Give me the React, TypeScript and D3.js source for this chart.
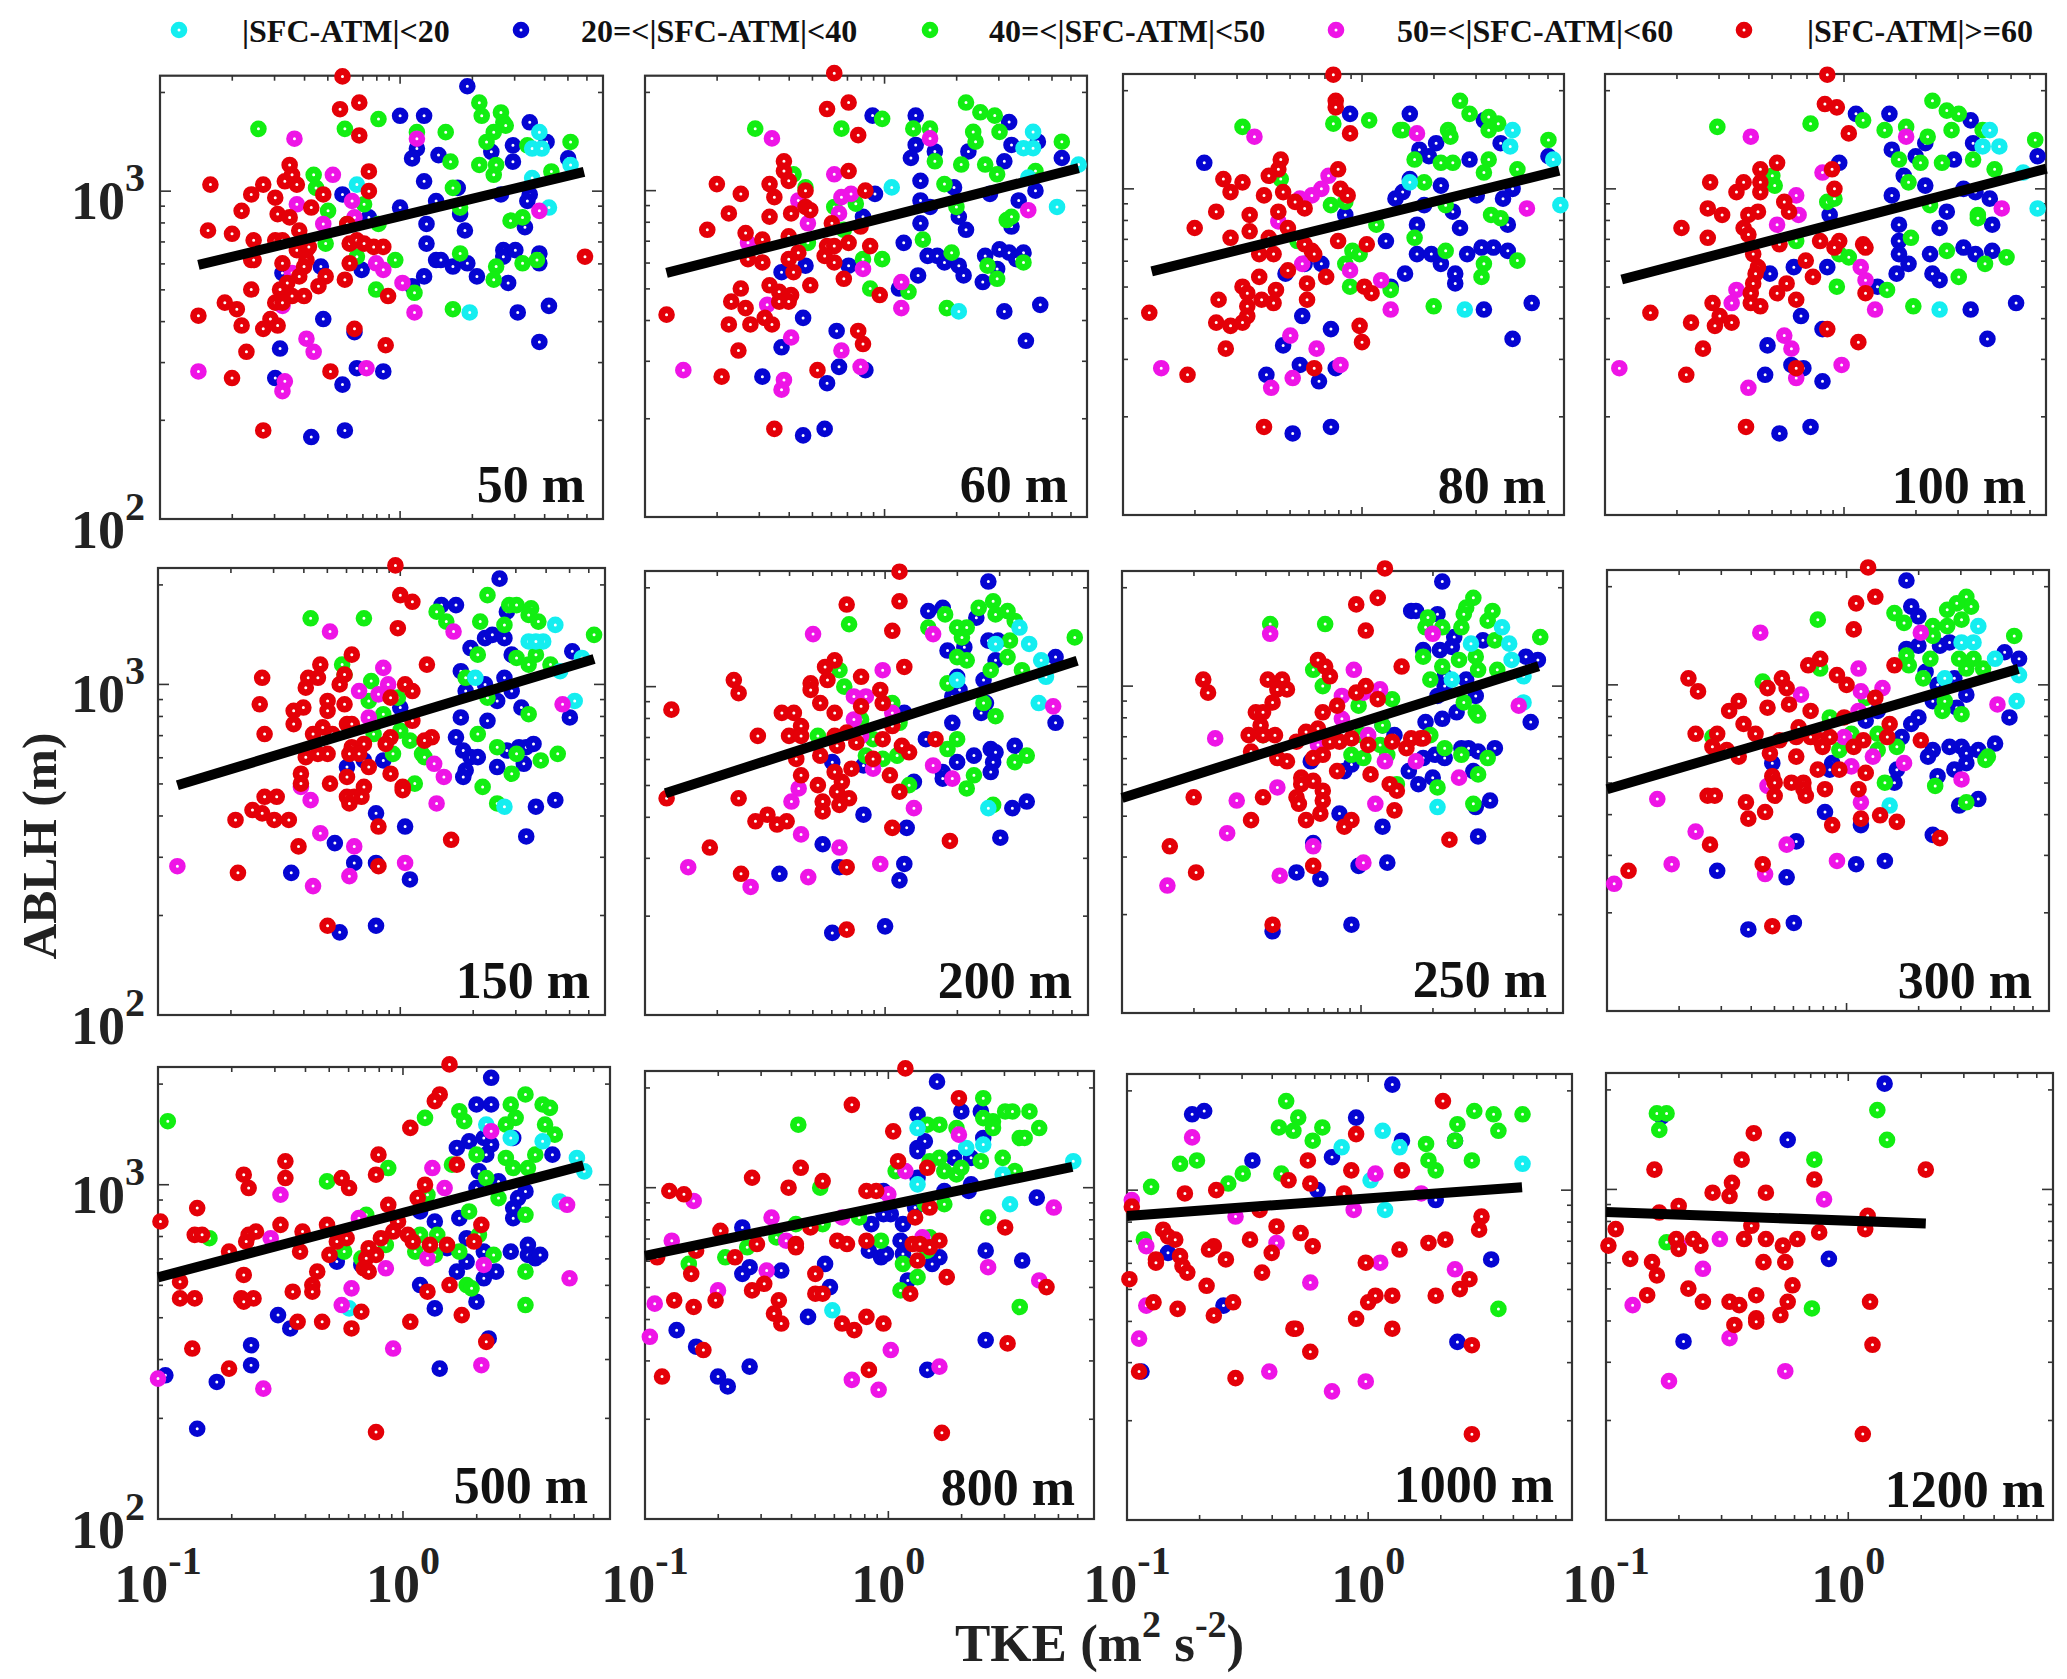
import React from 'react';
import * as d3 from 'd3';

// All series are [log10 TKE, log10 ABLH, log10 TKE, log10 ABLH, ...].
const red50 = [-.24,3.35,-.25,3.25,-.17,3.27,-.17,3.17,-.13,3.06,-.13,3,-.32,2.99,-.79,3.02,-.57,3.02,-.62,2.99,-.52,2.98,-.48,3.03,-.46,3.08,-.45,3.05,-.43,3.02,-.37,2.95,-.66,2.94,-.51,2.93,-.46,2.92,-.8,2.88,-.7,2.87,-.61,2.85,-.52,2.85,-.49,2.85,-.42,2.88,-.22,2.9,-.62,2.79,-.61,2.79,-.49,2.78,-.43,2.82,-.39,2.82,-.38,2.83,-.39,2.79,-.21,2.84,-.18,2.85,-.15,2.84,-.11,2.83,-.07,2.83,-.21,2.78,-.4,2.77,-.42,2.74,-.31,2.74,-.34,2.71,-.23,2.73,-.47,2.72,-.5,2.7,-.62,2.7,-.4,2.68,-.45,2.68,-.05,2.68,-.52,2.66,-.49,2.66,-.73,2.66,-.68,2.64,-.84,2.62,-.54,2.61,-.66,2.59,-.57,2.58,-.51,2.59,-.64,2.51,-.19,2.58,-.06,2.53,-.29,2.45,-.7,2.43,-.57,2.27,.77,2.8];
const blue50 = [.28,3.32,0,3.23,.1,3.23,.54,3.21,.47,3.14,.61,3.15,.7,3.1,.07,3.13,.05,3.1,.16,3.11,.38,3.12,.47,3.09,.1,3.03,.24,3.01,-.24,2.99,.15,2.97,0,2.95,.42,2.99,.54,2.99,.53,2.97,.25,2.93,.11,2.9,.27,2.88,.52,2.89,-.13,2.92,.11,2.84,.15,2.79,.17,2.79,.22,2.77,.28,2.78,.32,2.74,.43,2.82,.43,2.8,.48,2.82,.58,2.81,.58,2.78,.45,2.72,.1,2.74,.05,2.71,-.16,2.76,-.33,2.77,-.49,2.75,-.32,2.61,.49,2.63,.62,2.65,-.19,2.57,.58,2.54,-.5,2.52,-.18,2.46,-.07,2.45,-.52,2.43,-.24,2.41,-.23,2.27,-.37,2.25];
const green50 = [-.59,3.19,-.23,3.19,-.09,3.22,.07,3.18,.19,3.18,.33,3.27,.34,3.23,.42,3.24,.43,3.21,.44,3.2,.39,3.18,.36,3.15,.71,3.15,.53,3.14,.21,3.09,.33,3.08,.4,3.08,.39,3.05,.63,3.06,-.36,3.05,-.35,3.01,.22,3.01,.25,2.95,-.3,2.94,-.15,2.96,.46,2.91,.51,2.92,-.09,2.9,-.22,2.9,-.31,2.84,.25,2.81,-.02,2.79,-.18,2.8,.4,2.77,.39,2.73,.51,2.78,.57,2.79,-.1,2.7,.06,2.69,.22,2.64];
const cyan50 = [-.18,3.02,.58,3.18,.55,3.13,.59,3.13,.71,3.08,.55,3.04,.62,2.95,.29,2.63];
const magenta50 = [-.44,3.16,-.28,3.05,.07,3.16,-.43,2.96,-.2,2.97,-.19,2.92,-.32,2.9,.58,2.94,-.1,2.78,-.07,2.76,.01,2.72,.06,2.63,-.49,2.7,-.39,2.55,-.36,2.51,-.84,2.45,-.14,2.46,-.48,2.42,-.49,2.39,-.45,2.75,-.49,2.65];

const red60 = [-.21,3.36,-.24,3.25,-.15,3.27,-.11,3.17,-.15,3.06,-.42,3.09,-.42,3.06,-.4,3.03,-.7,3.02,-.48,3.02,-.6,2.99,-.46,2.98,-.33,3,-.08,3,-.65,2.93,-.48,2.92,-.39,2.93,-.33,2.95,-.31,2.94,-.74,2.88,-.58,2.87,-.22,2.9,-.51,2.85,-.4,2.86,-.1,2.89,-.15,2.84,-.06,2.83,-.24,2.83,-.21,2.83,-.25,2.8,-.21,2.78,-.4,2.79,-.36,2.81,-.51,2.78,-.57,2.79,-.38,2.75,-.31,2.71,-.17,2.73,-.48,2.71,-.6,2.7,-.39,2.68,-.44,2.69,-.44,2.66,-.4,2.66,-.64,2.66,-.58,2.64,-.02,2.68,-.91,2.62,-.5,2.61,-.47,2.59,-.65,2.59,-.56,2.59,-.11,2.57,-.09,2.53,-.61,2.51,-.28,2.45,-.68,2.43,-.46,2.27];
const blue60 = [-.05,3.23,.13,3.23,.52,3.21,.13,3.14,.21,3.12,.11,3.1,.53,3.14,.35,3.12,.5,3.09,.64,3.15,.74,3.1,.15,3.03,.29,3.01,-.04,2.99,.15,2.97,.19,2.95,.44,2.99,.56,2.97,.63,3,.31,2.92,.15,2.9,.34,2.88,.53,2.89,-.09,2.92,.08,2.84,.18,2.8,.22,2.8,.25,2.78,.31,2.77,.33,2.74,.42,2.8,.48,2.82,.52,2.81,.58,2.81,.55,2.79,.47,2.76,.41,2.72,.14,2.74,.06,2.7,-.15,2.77,-.33,2.77,-.43,2.75,-.34,2.61,.5,2.63,.65,2.65,-.2,2.57,.59,2.54,-.43,2.52,-.19,2.46,-.08,2.45,-.51,2.43,-.24,2.41,-.25,2.27,-.34,2.25];
const green60 = [-.54,3.19,-.18,3.19,-.01,3.22,.12,3.19,.19,3.19,.34,3.27,.4,3.24,.46,3.23,.48,3.18,.37,3.18,.38,3.15,.74,3.15,.21,3.09,.32,3.08,.42,3.08,.47,3.05,.63,3.06,-.38,3.05,-.33,3.01,.25,3.02,.3,2.95,-.12,2.96,-.21,2.95,.51,2.91,.53,2.92,-.32,2.84,.16,2.85,.28,2.81,-.01,2.79,-.09,2.79,.43,2.77,.47,2.73,.58,2.78,-.06,2.7,.1,2.69,.26,2.64,-.17,2.88];
const cyan60 = [.03,3.01,.62,3.18,.58,3.13,.62,3.13,.81,3.08,.6,3.04,.72,2.95,.31,2.63];
const magenta60 = [-.47,3.16,.19,3.16,-.21,3.05,-.14,2.99,-.18,2.98,-.36,2.97,-.19,2.93,-.32,2.9,-.57,2.84,-.09,2.76,.07,2.72,-.49,2.65,.07,2.64,.6,2.94,-.39,2.55,-.18,2.51,-.84,2.45,-.1,2.46,-.42,2.42,-.43,2.39];

const red80 = [-.12,3.35,-.11,3.27,-.11,3.25,-.05,3.17,-.34,3.09,-.35,3.06,-.1,3.06,-.39,3.04,-.58,3.03,-.5,3.02,-.55,2.99,-.41,2.98,-.33,2.99,-.09,3,-.06,2.98,-.61,2.93,-.28,2.96,-.24,2.94,-.47,2.92,-.35,2.93,-.7,2.88,-.31,2.88,-.47,2.87,-.55,2.85,-.39,2.85,-.1,2.84,.02,2.83,-.24,2.83,-.43,2.8,-.37,2.8,-.21,2.81,-.2,2.8,-.31,2.75,-.15,2.73,-.43,2.73,-.23,2.71,-.5,2.7,-.48,2.68,.01,2.7,.04,2.68,-.36,2.69,-.42,2.66,-.37,2.65,-.23,2.66,-.6,2.66,-.48,2.64,-.48,2.61,-.89,2.62,-.61,2.59,-.55,2.58,-.5,2.59,-.01,2.58,0,2.53,-.57,2.51,-.73,2.43,-.2,2.45,-.41,2.27];
const blue80 = [-.66,3.08,-.05,3.23,.2,3.23,.51,3.21,.58,3.14,.24,3.12,.31,3.14,.28,3.1,.45,3.09,.78,3.1,.2,3.03,.33,3.01,.17,2.99,.14,2.97,.63,3,.59,2.97,.48,2.98,.26,2.95,.38,2.93,.41,2.88,-.07,2.92,.61,2.89,.23,2.89,.1,2.84,.23,2.8,.29,2.8,.33,2.77,.44,2.8,.5,2.82,.55,2.82,.61,2.81,.39,2.74,.39,2.71,.18,2.74,.12,2.7,-.24,2.77,-.17,2.77,-.32,2.74,-.25,2.61,.51,2.63,.71,2.65,.63,2.54,-.13,2.57,-.33,2.52,-.26,2.46,-.11,2.45,-.4,2.43,-.18,2.41,-.13,2.27,-.29,2.25];
const green80 = [-.5,3.19,-.12,3.2,.03,3.21,.16,3.18,.17,3.18,.41,3.27,.45,3.23,.53,3.22,.57,3.2,.53,3.18,.78,3.15,.36,3.18,.37,3.16,.22,3.09,.33,3.08,.38,3.08,.53,3.09,.51,3.05,.65,3.06,.26,3.02,-.34,3.03,-.13,2.95,-.07,2.96,.35,2.95,.06,2.89,.54,2.92,.58,2.91,.22,2.85,.35,2.81,-.27,2.84,-.04,2.81,-.07,2.77,-.01,2.8,.65,2.78,.51,2.77,.5,2.73,-.05,2.7,.12,2.69,.3,2.64];
const cyan80 = [.63,3.18,.62,3.13,.8,3.09,.83,2.95,.43,2.63,.2,3.02];
const magenta80 = [-.45,3.16,.23,3.17,-.14,3.04,-.17,3,-.21,2.98,-.26,2.97,-.35,2.9,.69,2.94,-.05,2.75,.08,2.72,.12,2.63,-.3,2.55,-.19,2.51,-.09,2.46,-.84,2.45,-.29,2.42,-.38,2.39,-.25,2.77];

const red100 = [-.07,3.35,-.08,3.26,-.03,3.25,.02,3.17,-.28,3.08,-.35,3.06,-.05,3.06,-.56,3.02,-.42,3.02,-.35,3.02,-.35,2.99,-.45,2.99,-.04,3,-.57,2.94,-.51,2.92,-.25,2.96,-.23,2.93,-.4,2.92,-.36,2.93,-.68,2.88,-.42,2.88,-.4,2.86,-.57,2.85,-.27,2.83,-.1,2.84,-.02,2.84,-.04,2.82,.08,2.83,.09,2.82,-.38,2.8,-.36,2.76,-.16,2.78,-.37,2.74,-.13,2.73,-.38,2.71,-.24,2.71,-.39,2.68,-.28,2.68,.09,2.68,-.55,2.65,-.39,2.65,-.2,2.66,-.35,2.64,-.81,2.62,-.52,2.61,-.64,2.59,-.54,2.58,-.47,2.59,-.07,2.57,.06,2.53,-.59,2.51,-.66,2.43,-.2,2.45,-.41,2.27];
const blue100 = [.05,3.23,.19,3.23,.53,3.21,-.02,3.08,.2,3.12,.34,3.14,.3,3.1,.46,3.09,.81,3.1,.54,3.14,.25,3.04,.34,3.01,.2,2.98,.5,3,.55,2.99,.61,2.97,.43,2.93,.4,2.88,.23,2.89,-.06,2.92,.62,2.89,.23,2.84,.23,2.8,.27,2.77,.36,2.8,.5,2.82,.55,2.8,.62,2.81,.22,2.74,.37,2.74,.4,2.72,-.21,2.76,-.07,2.76,-.31,2.74,.14,2.7,-.18,2.61,.53,2.63,.72,2.65,.6,2.54,-.09,2.57,-.32,2.52,-.22,2.46,-.17,2.45,-.33,2.43,-.09,2.41,-.14,2.27,-.27,2.25];
const green100 = [-.53,3.19,-.14,3.2,.08,3.21,.37,3.27,.43,3.24,.48,3.23,.17,3.18,.26,3.19,.45,3.18,.35,3.16,.58,3.18,.8,3.15,.23,3.09,.32,3.08,.41,3.08,.54,3.09,.63,3.06,-.3,3.04,-.29,3.01,.27,3.02,-.07,2.96,-.04,2.97,.36,2.95,.56,2.92,.56,2.91,.28,2.85,.43,2.81,-.2,2.84,-.02,2.8,.02,2.79,.68,2.79,.59,2.77,.48,2.73,-.03,2.7,.18,2.69,.29,2.64];
const cyan100 = [.61,3.18,.58,3.13,.65,3.13,.81,2.94,.4,2.63,.75,3.05];
const magenta100 = [-.39,3.16,.26,3.16,-.09,3.05,-.2,2.98,-.19,2.92,-.28,2.89,.66,2.94,.07,2.76,.09,2.72,-.45,2.69,-.47,2.65,.13,2.63,-.25,2.55,-.22,2.51,-.01,2.46,-.94,2.45,-.2,2.42,-.4,2.39];

const red150 = [-.02,3.36,0,3.27,.05,3.25,-.01,3.17,-.2,3.09,-.33,3.06,.11,3.06,-.57,3.02,-.38,3.02,-.34,3.02,-.39,2.99,-.25,3,-.23,3.03,.02,3,.05,2.98,-.58,2.94,-.3,2.95,-.23,2.94,-.04,2.96,-.44,2.92,-.4,2.93,-.3,2.92,-.44,2.88,-.56,2.85,-.36,2.85,-.32,2.87,-.22,2.88,-.2,2.88,.05,2.89,-.28,2.85,-.04,2.84,.13,2.84,.1,2.83,-.39,2.78,-.34,2.79,-.3,2.79,-.2,2.81,-.15,2.82,-.21,2.79,-.17,2.79,-.06,2.82,-.13,2.75,-.22,2.72,-.04,2.73,-.41,2.73,-.41,2.7,-.29,2.7,-.15,2.69,.01,2.69,.01,2.68,-.56,2.66,-.51,2.66,-.22,2.66,-.19,2.66,-.16,2.66,-.21,2.64,-.61,2.62,-.57,2.61,-.68,2.59,-.52,2.59,-.46,2.59,-.09,2.57,.21,2.53,-.42,2.51,-.09,2.45,-.67,2.43,-.3,2.27];
const blue150 = [.41,3.32,.17,3.24,.23,3.24,.44,3.22,.35,3.14,.38,3.15,.43,3.14,.29,3.11,.46,3.09,.71,3.1,.25,3.04,.35,3,.43,3.02,.27,2.98,.46,2.98,.4,2.95,0,2.93,.5,2.93,.25,2.9,.36,2.89,.7,2.9,.23,2.84,.26,2.8,.29,2.78,.32,2.78,.44,2.8,.49,2.81,.52,2.81,.55,2.82,.51,2.76,.4,2.75,.27,2.74,.26,2.72,-.07,2.77,-.22,2.75,-.15,2.77,-.1,2.61,.56,2.63,.64,2.65,.02,2.57,.52,2.54,-.27,2.52,-.19,2.46,-.1,2.46,-.45,2.43,.04,2.41,-.1,2.27,-.25,2.25];
const green150 = [-.37,3.2,-.15,3.2,.15,3.22,.19,3.19,.36,3.27,.45,3.24,.48,3.24,.54,3.23,.53,3.21,.57,3.19,.33,3.19,.43,3.18,.8,3.15,.32,3.09,.48,3.08,.56,3.09,.53,3.06,.62,3.06,-.24,3.06,-.23,3.03,-.12,3.01,.27,3.02,.36,2.96,-.13,2.95,-.01,2.96,.53,2.91,-.07,2.91,-.11,2.85,0,2.86,.04,2.83,.32,2.85,.4,2.81,.48,2.79,.58,2.77,.65,2.79,-.03,2.79,.09,2.79,.1,2.78,.46,2.73,.06,2.7,.34,2.69,.4,2.64];
const cyan150 = [.64,3.18,.53,3.13,.59,3.13,.56,3.13,.75,3.08,.66,3.04,.31,3.02,.72,2.95,.43,2.63];
const magenta150 = [-.29,3.16,.22,3.16,-.07,3.05,-.05,3,-.17,2.98,-.09,2.97,-.13,2.9,.67,2.94,.14,2.76,.18,2.72,-.41,2.69,-.37,2.65,.15,2.64,-.33,2.55,-.19,2.51,-.92,2.45,.02,2.46,-.21,2.42,-.36,2.39];

const red200 = [.06,3.35,.06,3.26,-.16,3.25,.03,3.17,-.21,3.08,-.25,3.06,.08,3.06,-.63,3.02,-.24,3.02,-.31,3.01,-.31,2.99,-.1,3.03,-.61,2.98,-.02,2.99,-.01,2.95,-.27,2.95,-.1,2.94,-.89,2.93,-.43,2.92,-.38,2.92,-.21,2.92,-.35,2.88,.03,2.88,-.53,2.85,-.4,2.85,-.35,2.85,-.21,2.85,-.16,2.86,-.01,2.84,.07,2.82,.21,2.84,-.12,2.83,-.2,2.82,-.27,2.79,-.37,2.78,-.05,2.78,.1,2.8,-.14,2.75,-.21,2.74,.02,2.73,-.35,2.73,-.18,2.71,-.28,2.7,-.2,2.68,.06,2.68,-.15,2.66,-.26,2.65,-.19,2.64,-.91,2.66,-.61,2.66,-.26,2.62,-.49,2.61,-.54,2.59,-.45,2.58,-.41,2.59,.03,2.57,.27,2.53,-.73,2.51,-.16,2.45,-.6,2.43,-.16,2.26];
const blue200 = [.43,3.32,.18,3.23,.24,3.24,.38,3.21,.43,3.14,.47,3.14,.33,3.12,.26,3.11,.46,3.08,.71,3.09,.3,3.03,.41,3.02,.31,2.99,.28,2.97,.08,2.92,.42,2.95,.4,2.92,.28,2.89,.71,2.89,.17,2.84,.37,2.79,.44,2.81,.46,2.8,.45,2.77,.44,2.74,.54,2.82,.3,2.77,.24,2.74,.24,2.72,-.22,2.77,-.09,2.76,.12,2.71,-.09,2.61,.53,2.63,.59,2.65,.09,2.57,.48,2.54,-.26,2.52,-.19,2.45,.08,2.46,-.44,2.43,.06,2.41,0,2.27,-.22,2.25];
const green200 = [-.15,3.19,.25,3.22,.18,3.18,.3,3.18,.34,3.18,.32,3.15,.39,3.24,.45,3.26,.46,3.22,.51,3.23,.54,3.2,.79,3.15,.52,3.14,.51,3.09,.3,3.09,.34,3.08,.44,3.05,.57,3.05,-.19,3.05,-.17,3,.26,3.01,.03,2.95,.41,2.95,.46,2.91,-.1,2.9,.06,2.89,-.28,2.85,-.05,2.84,.3,2.84,.26,2.81,.05,2.79,-.01,2.78,-.08,2.79,.59,2.79,.54,2.77,.37,2.73,.1,2.7,.34,2.69,.45,2.64];
const cyan200 = [.56,3.18,.46,3.13,.6,3.13,.65,3.08,.67,3.03,.64,2.95,.43,2.63,.3,3.02];
const magenta200 = [-.3,3.16,.2,3.16,-.01,3.05,-.13,2.97,-.08,2.97,.03,2.92,-.13,2.9,.7,2.94,.2,2.76,.28,2.72,-.05,2.75,-.36,2.69,-.39,2.65,.12,2.63,-.35,2.55,-.19,2.51,-.82,2.45,-.02,2.46,-.32,2.42,-.56,2.39,-.1,2.85];

const red250 = [.1,3.36,.07,3.27,-.02,3.25,.02,3.17,-.18,3.08,-.15,3.06,-.13,3.03,.17,3.06,-.66,3.02,-.64,2.98,-.39,3.02,-.33,3.02,-.35,2.99,-.31,2.99,.02,3,-.02,2.98,.07,2.96,-.37,2.95,-.1,2.94,-.44,2.92,-.41,2.92,-.16,2.92,-.42,2.88,-.47,2.85,-.41,2.85,-.36,2.85,-.23,2.86,-.18,2.87,-.27,2.83,-.46,2.8,-.13,2.83,-.09,2.83,-.04,2.84,.03,2.82,.13,2.83,.19,2.81,.21,2.84,.25,2.84,.26,2.84,-.35,2.78,-.31,2.77,-.2,2.78,-.16,2.79,-.1,2.74,.04,2.73,-.25,2.72,-.2,2.71,-.25,2.7,-.16,2.68,.12,2.7,.15,2.68,-.27,2.66,-.16,2.65,-.26,2.64,-.7,2.66,-.41,2.66,-.17,2.61,.14,2.62,-.23,2.59,-.04,2.59,-.07,2.57,-.46,2.59,.37,2.53,-.8,2.51,-.2,2.45,-.69,2.43,-.37,2.27];
const blue250 = [.34,3.32,.21,3.23,.23,3.23,.32,3.22,.39,3.15,.38,3.12,.33,3.11,.51,3.14,.26,3.11,.69,3.09,.74,3.08,.35,3.03,.44,3.02,.35,3,.32,2.97,.48,2.97,.4,2.92,.27,2.89,.34,2.9,.71,2.89,.14,2.85,.09,2.88,.31,2.79,.35,2.78,.26,2.78,.42,2.81,.45,2.81,.49,2.8,.56,2.81,.47,2.74,-.04,2.76,-.07,2.74,-.21,2.77,.2,2.74,.3,2.72,.24,2.7,-.09,2.61,.48,2.63,.54,2.65,.09,2.57,.49,2.54,-.2,2.52,-.01,2.45,.11,2.46,-.27,2.43,-.17,2.41,-.04,2.27,-.37,2.25];
const green250 = [-.38,3.19,-.15,3.19,.47,3.27,.44,3.24,.43,3.22,.55,3.23,.53,3.2,.28,3.21,.27,3.18,.34,3.18,.42,3.18,.75,3.15,.56,3.14,.26,3.09,.41,3.08,.48,3.09,.34,3.06,.49,3.05,.57,3.05,-.2,3.05,-.16,3,.29,3.02,.13,2.96,-.01,2.94,.43,2.95,.48,2.92,.49,2.91,.09,2.88,0,2.85,.29,2.85,-.41,2.85,.08,2.82,.11,2.79,-.04,2.79,.01,2.78,.35,2.81,.53,2.78,.42,2.79,.49,2.73,.15,2.7,.32,2.69,.47,2.64];
const cyan250 = [.59,3.18,.62,3.13,.46,3.13,.63,3.08,.68,3.03,.38,3.02,.68,2.95,.32,2.63];
const magenta250 = [-.38,3.16,.3,3.16,-.03,3.05,.01,2.98,.08,2.99,-.08,2.97,-.08,2.9,-.61,2.84,.03,2.85,-.18,2.82,.1,2.77,.23,2.77,.66,2.94,.41,2.72,-.35,2.69,-.52,2.65,.06,2.64,-.56,2.55,-.2,2.51,.01,2.46,-.34,2.42,-.81,2.39];

const red300 = [.09,3.36,.12,3.27,.04,3.25,.03,3.17,-.11,3.08,-.16,3.06,.2,3.06,-.66,3.02,-.62,2.98,-.27,3.02,-.33,2.99,-.25,2.99,-.04,3.03,0,3,.12,2.96,-.45,2.95,-.49,2.92,-.33,2.93,-.24,2.94,-.15,2.92,-.43,2.88,-.63,2.85,-.54,2.85,-.38,2.85,-.2,2.87,-.01,2.9,.18,2.88,-.56,2.81,-.5,2.8,-.45,2.78,-.28,2.83,-.21,2.84,-.15,2.84,-.11,2.83,-.1,2.81,-.07,2.84,.07,2.83,.03,2.81,.17,2.84,.31,2.83,-.32,2.79,-.21,2.78,-.12,2.74,-.03,2.74,.08,2.73,-.31,2.72,-.3,2.7,-.23,2.7,-.18,2.7,-.18,2.68,-.09,2.68,.05,2.68,-.58,2.66,-.55,2.66,-.3,2.66,-.17,2.66,-.42,2.64,-.34,2.61,-.41,2.59,-.06,2.57,.14,2.6,.21,2.58,.06,2.59,.39,2.53,-.57,2.51,-.35,2.45,-.91,2.43,-.31,2.26];
const blue300 = [.25,3.32,.27,3.24,.3,3.21,.43,3.13,.39,3.12,.3,3.12,.25,3.11,.66,3.1,.72,3.08,.33,3.04,.45,3.02,.38,3,.5,2.97,.36,2.95,.46,2.93,.68,2.9,.3,2.9,.27,2.88,.08,2.89,.13,2.92,.23,2.84,.62,2.82,.55,2.8,.48,2.81,.43,2.81,.5,2.79,.36,2.8,.34,2.78,.5,2.76,.45,2.74,.38,2.72,.21,2.74,.2,2.7,-.06,2.76,-.07,2.74,-.31,2.76,-.09,2.61,.47,2.63,.55,2.65,.06,2.57,.36,2.54,-.21,2.52,.04,2.45,.16,2.46,-.54,2.43,-.25,2.41,-.22,2.27,-.41,2.25];
const green300 = [-.12,3.2,.2,3.22,.24,3.19,.5,3.27,.52,3.24,.46,3.25,.42,3.23,.48,3.2,.42,3.18,.36,3.18,.36,3.15,.7,3.15,.25,3.09,.26,3.06,.35,3.08,.47,3.08,.5,3.05,.53,3.08,.57,3.05,-.11,3.05,-.35,3.01,.32,3.02,.08,2.96,.41,2.95,.4,2.92,.48,2.91,-.07,2.9,.02,2.85,.13,2.85,-.56,2.84,-.03,2.8,.13,2.8,.21,2.81,.59,2.78,.58,2.77,.16,2.7,.37,2.69,.5,2.64];
const cyan300 = [.55,3.18,.48,3.13,.53,3.13,.62,3.08,.72,3.03,.41,3.02,.71,2.95,.18,2.63];
const magenta300 = [-.36,3.16,.31,3.16,.05,3.05,.15,2.99,.06,2.98,-.19,2.97,.05,2.92,.63,2.94,-.01,2.84,.11,2.78,.24,2.76,.02,2.75,.48,2.71,-.33,2.69,-.79,2.65,.06,2.64,-.63,2.55,-.25,2.51,-.04,2.46,-.73,2.45,-.34,2.42,-.97,2.39];

const red500 = [.19,3.36,.15,3.27,.13,3.25,.03,3.17,-.1,3.09,-.48,3.07,-.48,3.02,-.65,3.03,-.63,2.99,-.11,3.03,-.25,3.02,-.22,2.99,.09,3,.22,3.06,.06,2.96,-.06,2.94,-.84,2.93,-.99,2.89,.32,2.88,-.02,2.89,-.04,2.86,-.85,2.85,-.82,2.85,-.63,2.85,-.6,2.86,-.5,2.88,-.41,2.86,-.31,2.88,-.64,2.83,-.27,2.83,-.23,2.84,-.09,2.84,.02,2.85,.04,2.83,.11,2.82,.18,2.82,.29,2.83,-.71,2.8,-.42,2.8,-.3,2.79,-.14,2.81,-.15,2.78,-.16,2.75,-.14,2.74,-.11,2.79,-.35,2.74,-.65,2.73,-.91,2.71,-.37,2.7,-.37,2.68,-.45,2.68,.1,2.68,.19,2.7,-.91,2.66,-.85,2.66,-.61,2.66,-.66,2.66,-.65,2.65,-.17,2.62,-.43,2.59,-.33,2.59,-.21,2.57,.03,2.59,.24,2.61,.34,2.53,-.86,2.51,-.71,2.45,-.11,2.26];
const blue500 = [.36,3.32,.3,3.24,.36,3.24,.45,3.14,.27,3.13,.33,3.14,.22,3.11,.36,3.12,.34,3.09,.61,3.09,.31,3.04,.39,3.01,.3,2.99,.5,2.98,.47,2.96,.45,2.93,.45,2.9,.07,2.92,.13,2.89,.23,2.9,.26,2.84,.18,2.81,.33,2.8,.44,2.8,.51,2.82,.51,2.79,.54,2.78,.56,2.79,.26,2.77,.22,2.74,.38,2.74,.33,2.72,-.27,2.77,-.17,2.76,.07,2.7,.3,2.65,.13,2.63,-.51,2.61,-.46,2.57,.35,2.54,-.62,2.52,-.62,2.46,.15,2.45,-.97,2.43,-.76,2.41,-.84,2.27];
const green500 = [-.96,3.19,.09,3.2,.23,3.22,.25,3.19,.5,3.27,.44,3.24,.57,3.24,.6,3.23,.46,3.2,.42,3.18,.58,3.18,.62,3.15,-.06,3.05,.2,3.06,.3,3.09,.42,3.08,.54,3.09,.45,3.05,.51,3.05,-.31,3.01,.34,3.02,.1,2.97,.39,2.96,.27,2.92,.5,2.91,-.15,2.91,-.79,2.84,-.07,2.82,.07,2.85,.14,2.85,.31,2.85,-.24,2.8,.05,2.8,.13,2.79,.23,2.8,.37,2.79,-.17,2.78,.5,2.74,.26,2.7,.28,2.69,.5,2.64];
const cyan500 = [.34,3.18,.44,3.14,.57,3.13,.71,3.08,.74,3.04,.64,2.95,-.22,2.63];
const magenta500 = [.36,3.16,.12,3.05,.17,2.99,-.5,2.97,-.18,2.9,.67,2.94,-.54,2.84,.1,2.78,-.07,2.75,.33,2.76,.68,2.72,-.21,2.69,-.25,2.64,-.04,2.51,.32,2.46,-1,2.42,-.57,2.39];

const red800 = [.07,3.36,.29,3.27,-.15,3.25,.02,3.17,.04,3.08,.16,3.06,-.36,3.06,-.56,3.03,-.27,3.02,-.41,3,-.9,2.99,-.84,2.98,-.09,2.99,-.05,2.99,.11,2.91,.17,2.94,.48,2.88,-.69,2.87,-.32,2.88,.21,2.84,-.09,2.84,-.21,2.84,-.17,2.83,-.38,2.83,-.38,2.82,-.54,2.83,.1,2.83,.13,2.83,.17,2.82,-.79,2.81,-.95,2.79,-.63,2.79,.12,2.78,-.81,2.74,-.3,2.74,.24,2.73,-.51,2.71,-.56,2.69,.65,2.7,-.3,2.68,-.27,2.68,.09,2.68,-.88,2.66,-.71,2.66,-.45,2.66,-.8,2.64,-.47,2.62,-.44,2.59,-.19,2.59,-.14,2.57,-.09,2.61,-.02,2.59,.49,2.53,-.76,2.51,-.08,2.45,-.93,2.43,.22,2.26];
const blue800 = [.2,3.32,.3,3.23,.38,3.23,.12,3.22,.15,3.14,.12,3.12,.12,3.11,.39,3.15,.27,3.09,.34,3.09,.34,3.01,.33,2.99,.23,2.99,.12,3.03,-.02,2.99,.61,2.97,.11,2.94,.01,2.92,-.02,2.92,-.07,2.89,.06,2.89,-.6,2.88,.05,2.84,.4,2.81,.55,2.78,.21,2.79,.18,2.77,.06,2.8,-.08,2.81,-.03,2.79,-.01,2.8,-.57,2.76,-.6,2.74,-.44,2.75,-.26,2.77,-.24,2.7,.08,2.72,-.33,2.61,-.87,2.57,.4,2.54,-.79,2.52,.16,2.45,-.57,2.46,-.7,2.43,-.66,2.4];
const green800 = [-.37,3.19,.39,3.27,.48,3.23,.51,3.23,.58,3.23,.39,3.21,.43,3.2,.43,3.18,.16,3.19,.21,3.19,.28,3.18,.62,3.18,.54,3.15,.56,3.15,.47,3.09,.38,3.08,.21,3.09,.17,3.08,.23,3.05,.28,3.04,.3,3.06,.03,3.05,.52,3.05,-.28,3,.23,2.95,.15,2.95,-.12,2.91,.41,2.91,-.38,2.89,-.27,2.89,-.46,2.85,-.58,2.82,-.03,2.84,.17,2.85,-.67,2.79,-.82,2.77,.06,2.77,.16,2.81,.12,2.73,.05,2.69,.54,2.64];
const cyan800 = [.12,3.18,.32,3.12,.39,3.13,.76,3.08,.47,3.04,.12,3.01,.5,2.95,-.23,2.63];
const magenta800 = [.29,3.16,.07,3.05,-.8,2.96,0,2.98,.68,2.94,-.48,2.91,-.19,2.91,-.89,2.84,-.42,2.84,.14,2.85,-.5,2.75,.41,2.76,.62,2.72,-.7,2.69,-.96,2.65,-.98,2.55,.01,2.51,.21,2.46,-.15,2.42,-.04,2.39];

const red1000 = [.31,3.27,-.05,3.17,-.25,3.09,-.07,3.06,.14,3.06,-.33,3.03,-.24,3.02,-.76,2.99,-.63,3,-.1,2.99,-.98,2.95,-.45,2.94,.47,2.92,-.38,2.89,.46,2.88,-.28,2.87,-.85,2.88,-.83,2.86,-.8,2.85,-.49,2.85,.32,2.85,.25,2.84,-.23,2.83,.13,2.82,-.64,2.83,-.66,2.82,-.4,2.81,-.78,2.8,-.88,2.79,-.88,2.78,-.77,2.77,-.59,2.79,-.01,2.78,-.75,2.75,-.44,2.75,-.99,2.73,.42,2.73,-.67,2.71,.38,2.7,.03,2.68,.1,2.68,.28,2.68,0,2.66,-.89,2.66,-.56,2.66,-.79,2.64,-.64,2.62,-.05,2.61,.1,2.58,-.31,2.58,-.3,2.58,-.24,2.51,.43,2.53,-.95,2.45,-.55,2.43,.43,2.26];
const blue1000 = [.1,3.32,-.73,3.23,-.68,3.24,-.05,3.22,.14,3.15,.36,3.15,-.48,3.09,-.15,3.1,-.21,3,.28,2.97,-.83,2.81,.51,2.79,-.6,2.65,.37,2.54,-.94,2.45];
const green1000 = [-.34,3.27,.64,3.23,.44,3.24,.52,3.23,.54,3.18,.37,3.2,-.29,3.22,-.37,3.19,-.31,3.18,-.19,3.19,-.23,3.15,.36,3.15,.24,3.14,-.71,3.09,-.78,3.08,.25,3.09,.28,3.06,.43,3.09,-.52,3.05,-.36,3.05,-.58,3.02,-.9,3.01,-.93,2.85,.54,2.64];
const cyan1000 = [.06,3.18,-.11,3.13,.13,3.13,.01,3.03,.64,3.08,.07,2.94];
const magenta1000 = [-.73,3.16,.03,3.05,.22,2.99,-.98,2.97,-.55,2.92,-.06,2.94,-.92,2.83,-.38,2.84,.05,2.78,.36,2.76,-.24,2.72,-.92,2.65,-.95,2.55,-.41,2.45,-.01,2.42,-.15,2.39];

const red1200 = [-.39,3.17,-.44,3.09,.32,3.06,-.8,3.06,-.14,3.03,-.48,3.02,-.56,2.99,-.49,2.98,-.34,2.99,-.7,2.95,-.78,2.93,.08,2.92,.07,2.88,-.12,2.87,-.4,2.89,-.96,2.88,-.43,2.85,-.21,2.85,-.34,2.85,-.27,2.83,-.71,2.85,-.7,2.82,-.64,2.85,-.61,2.83,-.99,2.83,-.9,2.79,-.81,2.78,-.26,2.78,-.35,2.78,-.79,2.74,-.23,2.71,-.66,2.7,-.83,2.68,-.38,2.68,-.6,2.66,-.49,2.66,-.45,2.65,.09,2.66,-.25,2.66,-.28,2.62,-.38,2.61,-.38,2.6,-.47,2.59,.1,2.53,.06,2.26];
const blue1200 = [.15,3.32,-.77,3.22,-.25,3.15,-.08,2.79,-.68,2.54];
const green1200 = [-.79,3.23,-.75,3.23,-.78,3.18,.12,3.24,.16,3.15,-.14,3.09,-.75,2.84,-.15,2.64];
const cyan1200: number[] = [];
const magenta1200 = [-.1,2.97,-.53,2.85,-.7,2.83,-.6,2.76,-.89,2.65,-.49,2.55,-.26,2.45,-.74,2.42];

// Fitted line ends: log10 TKE, log10 ABLH, log10 TKE, log10 ABLH
const fit50 = [-.84,2.775,.766,3.059];
const fit60 = [-.91,2.748,.81,3.069];
const fit80 = [-.88,2.747,.825,3.056];
const fit100 = [-.93,2.722,.847,3.062];
const fit150 = [-.92,2.695,.8,3.077];
const fit200 = [-.915,2.675,.8,3.079];
const fit250 = [-1,2.658,.743,3.061];
const fit300 = [-1,2.68,.717,3.049];
const fit500 = [-1,2.723,.737,3.058];
const fit800 = [-1,2.794,.756,3.063];
const fit1000 = [-1,2.922,.638,3.009];
const fit1200 = [-1,2.932,.32,2.897];

const panelLabels = ['50 m','60 m','80 m','100 m','150 m','200 m','250 m','300 m','500 m','800 m','1000 m','1200 m'];
const legendLabels = ['|SFC-ATM|<20','20=<|SFC-ATM|<40','40=<|SFC-ATM|<50','50=<|SFC-ATM|<60','|SFC-ATM|>=60'];
const legendColors = ['#14eef0','#0505d2','#12ee12','#ee14e6','#e40008'];

const reds = [red50,red60,red80,red100,red150,red200,red250,red300,red500,red800,red1000,red1200];
const blues = [blue50,blue60,blue80,blue100,blue150,blue200,blue250,blue300,blue500,blue800,blue1000,blue1200];
const greens = [green50,green60,green80,green100,green150,green200,green250,green300,green500,green800,green1000,green1200];
const cyans = [cyan50,cyan60,cyan80,cyan100,cyan150,cyan200,cyan250,cyan300,cyan500,cyan800,cyan1000,cyan1200];
const magentas = [magenta50,magenta60,magenta80,magenta100,magenta150,magenta200,magenta250,magenta300,magenta500,magenta800,magenta1000,magenta1200];
const fits = [fit50,fit60,fit80,fit100,fit150,fit200,fit250,fit300,fit500,fit800,fit1000,fit1200];

// Layout: [left, right, top, bottom, label right, label baseline]
const frames = [
  [160,603,75.7,519,585,502],[645,1087,75.7,517,1068,502],[1123,1564,74,515,1546,503],[1605,2046,74,515,2026,503],
  [158,605,568,1015,590,998],[645,1088,571,1015,1072,998],[1122,1563,571,1013,1547,997],[1607,2049,570,1011,2032,998],
  [158,610,1067,1519,588,1503],[645,1094,1071,1519,1075,1505],[1127,1572,1074,1520,1554,1502],[1606,2053,1073,1520,2045,1507],
];
const legendMarkX = [179,521,930,1336,1744];
const legendTextX = [242,581,989,1397,1807];

const FONT = '"Liberation Serif", "Times New Roman", serif';
const xDomain = [0.1, 7];
const yDomain = [100, 2250];

function pairs(flat: number[]) {
  const out: [number, number][] = [];
  for (let i = 0; i + 1 < flat.length; i += 2) out.push([10 ** flat[i], 10 ** flat[i + 1]]);
  return out;
}

function Marker({ cx, cy, color }: { cx: number; cy: number; color: string }) {
  return <circle cx={cx} cy={cy} r={4.9} fill="#fff" stroke={color} strokeWidth={6.8} />;
}

function Power({ x, y, exp, anchor }: { x: number; y: number; exp: string; anchor: string }) {
  return (
    <text x={x} y={y} textAnchor={anchor} fontFamily={FONT} fontWeight="bold" fontSize={54} fill="#222">
      10<tspan dy={-28} fontSize={40}>{exp}</tspan>
    </text>
  );
}

function Panel({ i }: { i: number }) {
  const [L, R, T, B, lx, ly] = frames[i];
  const x = d3.scaleLog().domain(xDomain).range([L, R]);
  const y = d3.scaleLog().domain(yDomain).range([B, T]);
  const isMajor = (v: number) => Math.abs(Math.log10(v) - Math.round(Math.log10(v))) < 1e-6;
  const order: [number[], string][] = [
    [blues[i], legendColors[1]],
    [greens[i], legendColors[2]],
    [cyans[i], legendColors[0]],
    [magentas[i], legendColors[3]],
    [reds[i], legendColors[4]],
  ];
  const fitLine = d3.line<[number, number]>().x((d) => x(d[0])).y((d) => y(d[1]))(pairs(fits[i]));
  const col = i % 4;
  const row = Math.floor(i / 4);
  return (
    <g>
      <rect x={L} y={T} width={R - L} height={B - T} fill="#fff" stroke="#333" strokeWidth={2.2} />
      {x.ticks().filter((v) => v > xDomain[0] && v < xDomain[1]).map((v) => {
        const len = isMajor(v) ? 8 : 5;
        return (
          <g key={v} stroke="#333" strokeWidth={1.6}>
            <line x1={x(v)} x2={x(v)} y1={B} y2={B - len} />
            <line x1={x(v)} x2={x(v)} y1={T} y2={T + len} />
          </g>
        );
      })}
      {y.ticks().filter((v) => v > yDomain[0] && v < yDomain[1]).map((v) => {
        const len = isMajor(v) ? 11 : 5;
        return (
          <g key={v} stroke="#333" strokeWidth={1.6}>
            <line x1={L} x2={L + len} y1={y(v)} y2={y(v)} />
            <line x1={R} x2={R - len} y1={y(v)} y2={y(v)} />
          </g>
        );
      })}
      {order.map(([flat, color], k) =>
        pairs(flat).map((d, j) => <Marker key={`${k}-${j}`} cx={x(d[0])} cy={y(d[1])} color={color} />)
      )}
      <path d={fitLine ?? ''} fill="none" stroke="#000" strokeWidth={10} />
      <text x={lx} y={ly} textAnchor="end" fontFamily={FONT} fontWeight="bold" fontSize={52} fill="#111">
        {panelLabels[i]}
      </text>
      {col === 0 && (
        <g>
          <Power x={71} y={y(1000) + 28} exp="3" anchor="start" />
          <Power x={71} y={y(100) + 29} exp="2" anchor="start" />
        </g>
      )}
      {row === 2 && (
        <g>
          <Power x={x(0.1)} y={1602} exp="-1" anchor="middle" />
          <Power x={x(1)} y={1602} exp="0" anchor="middle" />
        </g>
      )}
    </g>
  );
}

export default function App() {
  return (
    <svg width={2067} height={1679} viewBox="0 0 2067 1679" style={{ position: 'absolute', left: 0, top: 0, background: '#fff' }}>
      {legendLabels.map((t, i) => (
        <g key={t}>
          <Marker cx={legendMarkX[i]} cy={30} color={legendColors[i]} />
          <text x={legendTextX[i]} y={42} fontFamily={FONT} fontWeight="bold" fontSize={32} fill="#111">{t}</text>
        </g>
      ))}
      {frames.map((_, i) => <Panel key={i} i={i} />)}
      <text transform="translate(56,846) rotate(-90)" textAnchor="middle" fontFamily={FONT} fontWeight="bold" fontSize={49.5} fill="#222">ABLH (m)</text>
      <text x={955} y={1661} fontFamily={FONT} fontWeight="bold" fontSize={53} fill="#222">
        TKE (m<tspan dy={-24} fontSize={38}>2</tspan><tspan dy={24}> s</tspan><tspan dy={-24} fontSize={38}>-2</tspan><tspan dy={24}>)</tspan>
      </text>
    </svg>
  );
}
